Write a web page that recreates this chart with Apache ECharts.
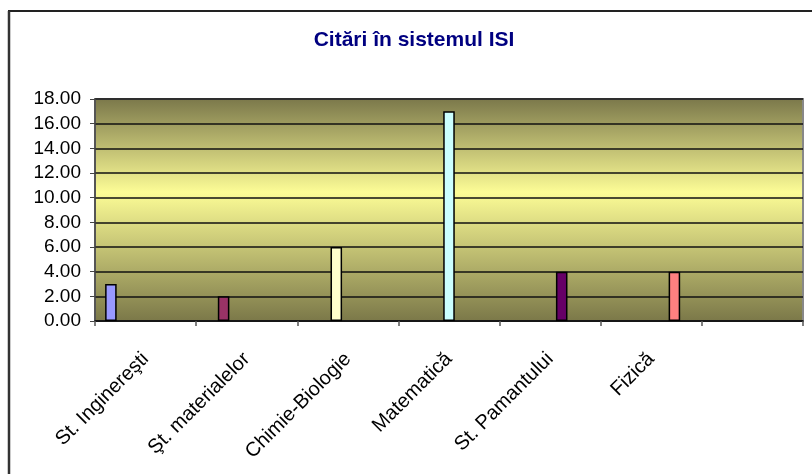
<!DOCTYPE html>
<html>
<head>
<meta charset="utf-8">
<script src="https://cdn.jsdelivr.net/npm/echarts@6/dist/echarts.min.js"></script>
<style>
  html, body { margin: 0; padding: 0; background: #fff; }
  #chart { width: 812px; height: 474px; }
</style>
</head>
<body>
<div id="chart"></div>
<script>
// categorii (ultima e goala, ca in original)
const categories = ["St. Inginereşti", "Şt. materialelor", "Chimie-Biologie", "Matematică", "St. Pamantului", "Fizică", ""];
const values = [3, 2, 6, 17, 4, 4];
const barColors = ["#9999FF", "#993366", "#FFFFCC", "#CCFFFF", "#660066", "#FF8080", "#000080"];
const yTicks = [0, 2, 4, 6, 8, 10, 12, 14, 16, 18];

const chart = echarts.init(document.getElementById("chart"));

// fiecare domeniu e o serie separata, ca in Excel
const series = categories.map((name, i) => ({
  type: "bar",
  name: name,
  data: categories.map((_, j) => (j === i && i < values.length ? values[i] : null)),
  barGap: "0%",
  barCategoryGap: "20%",
  itemStyle: {
    color: barColors[i],
    borderColor: "#000",
    borderWidth: 1.5,
  },
  animation: false,
}));

const option = {
  animation: false,
  title: {
    text: "Citări în sistemul ISI",
    left: 409,
    textAlign: "center",
    top: 25,
    textStyle: {
      fontFamily: "Liberation Sans",
      fontSize: 21,
      fontWeight: "bold",
      color: "#000080",
    },
  },
  graphic: [
    { type: "line", shape: { x1: 8, y1: 11, x2: 812, y2: 11 }, style: { stroke: "#222", lineWidth: 2 } },
    { type: "line", shape: { x1: 9, y1: 11, x2: 9, y2: 474 }, style: { stroke: "#333", lineWidth: 2.5 } },
  ],
  grid: {
    left: 95,
    right: 9,
    top: 99,
    bottom: 153,
    show: true,
    borderColor: "#888",
    borderWidth: 2,
    backgroundColor: {
      type: "linear",
      x: 0, y: 0, x2: 0, y2: 1,
      colorStops: [
        { offset: 0, color: "#7a774a" },
        { offset: 0.42, color: "#fcfc96" },
        { offset: 1, color: "#7a7748" },
      ],
    },
  },
  xAxis: {
    type: "category",
    data: categories,
    axisLine: { lineStyle: { color: "#111", width: 1.5 } },
    axisTick: { show: true, length: 5, lineStyle: { color: "#555", width: 1.5 } },
    axisLabel: {
      rotate: 45,
      margin: 35,
      interval: 0,
      fontFamily: "Liberation Sans",
      fontSize: 20,
      color: "#000",
    },
  },
  yAxis: {
    type: "value",
    min: yTicks[0],
    max: yTicks[yTicks.length - 1],
    interval: 2,
    axisLine: { show: true, lineStyle: { color: "#444", width: 1.5 } },
    axisTick: { show: true, length: 5, lineStyle: { color: "#444" } },
    axisLabel: {
      margin: 14,
      fontFamily: "Liberation Sans",
      fontSize: 19,
      color: "#000",
      formatter: (v) => v.toFixed(2),
    },
    splitLine: { show: true, lineStyle: { color: "#111", width: 1.5 } },
  },
  series: series,
};

chart.setOption(option);
</script>
</body>
</html>
